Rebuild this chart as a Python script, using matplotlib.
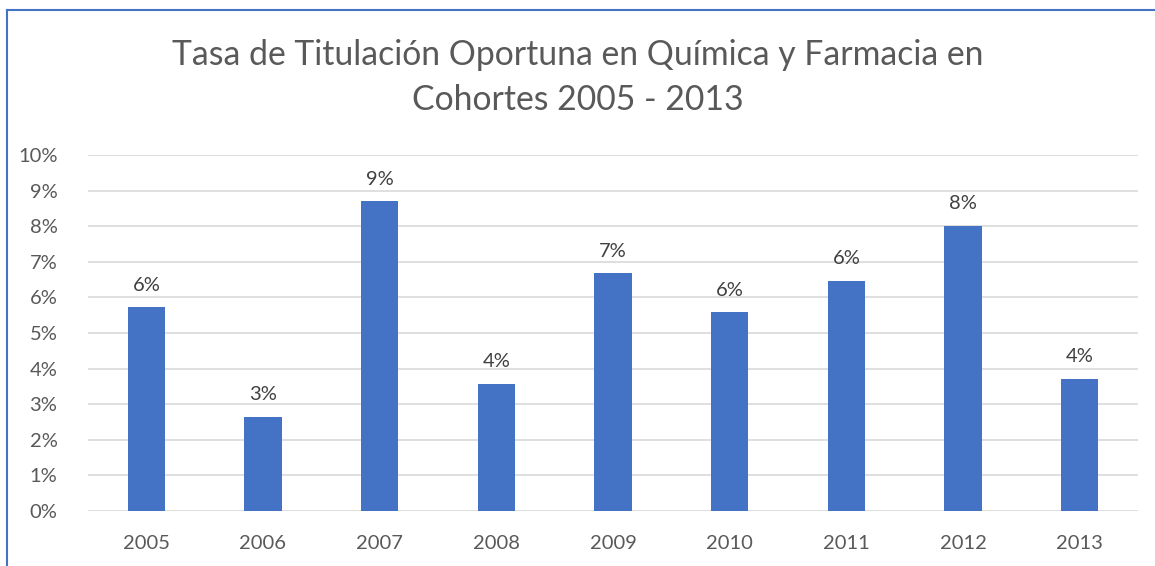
import matplotlib
matplotlib.use('Agg')
import matplotlib.pyplot as plt
from matplotlib.lines import Line2D
import numpy as np

# Datos
years = ['2005', '2006', '2007', '2008', '2009', '2010', '2011', '2012', '2013']
tasa = [5.72, 2.65, 8.70, 3.58, 6.68, 5.58, 6.46, 8.01, 3.72]  # en %
y_ticks = [0, 1, 2, 3, 4, 5, 6, 7, 8, 9, 10]

blue = '#4472C4'
gray_text = '#595959'

plt.rcParams['font.family'] = ['Lato', 'DejaVu Sans']

fig = plt.figure(figsize=(11.55, 5.66), dpi=100)
ax = fig.add_axes([88/1155, 1-511/566, 1050/1155, 356/566])

x = np.arange(len(years))
bars = ax.bar(x, tasa, width=0.32, color=blue, zorder=3)

for xi, v in zip(x, tasa):
    ax.text(xi, v + 0.38, f'{round(v):.0f}%', ha='center', va='bottom',
            fontsize=14.5, color='#404040')

ax.set_xlim(-0.5, len(years) - 0.5)
ax.set_ylim(0, 10)
ax.set_yticks(y_ticks)
ax.set_yticklabels([f'{t}%' for t in y_ticks])
ax.set_xticks(x)
ax.set_xticklabels(years)
ax.tick_params(axis='both', length=0, labelsize=14.5, labelcolor=gray_text)
ax.tick_params(axis='x', pad=17)
ax.tick_params(axis='y', pad=22)
ax.grid(axis='y', color='#D9D9D9', linewidth=1.2, zorder=0)
for s in ax.spines.values():
    s.set_visible(False)

fig.text(0.5, 1-55/566, 'Tasa de Titulación Oportuna en Química y Farmacia en',
         ha='center', va='center', fontsize=24.3, color=gray_text)
fig.text(0.5, 1-100/566, 'Cohortes 2005 - 2013',
         ha='center', va='center', fontsize=24.3, color=gray_text)

# borde azul del cuadro
fig.add_artist(Line2D([7/1155, 7/1155], [0, 1-10/566], color=blue, linewidth=1.5,
                      transform=fig.transFigure))
fig.add_artist(Line2D([7/1155, 1], [1-10/566, 1-10/566], color=blue, linewidth=1.5,
                      transform=fig.transFigure))

fig.savefig('out.png', dpi=100)
